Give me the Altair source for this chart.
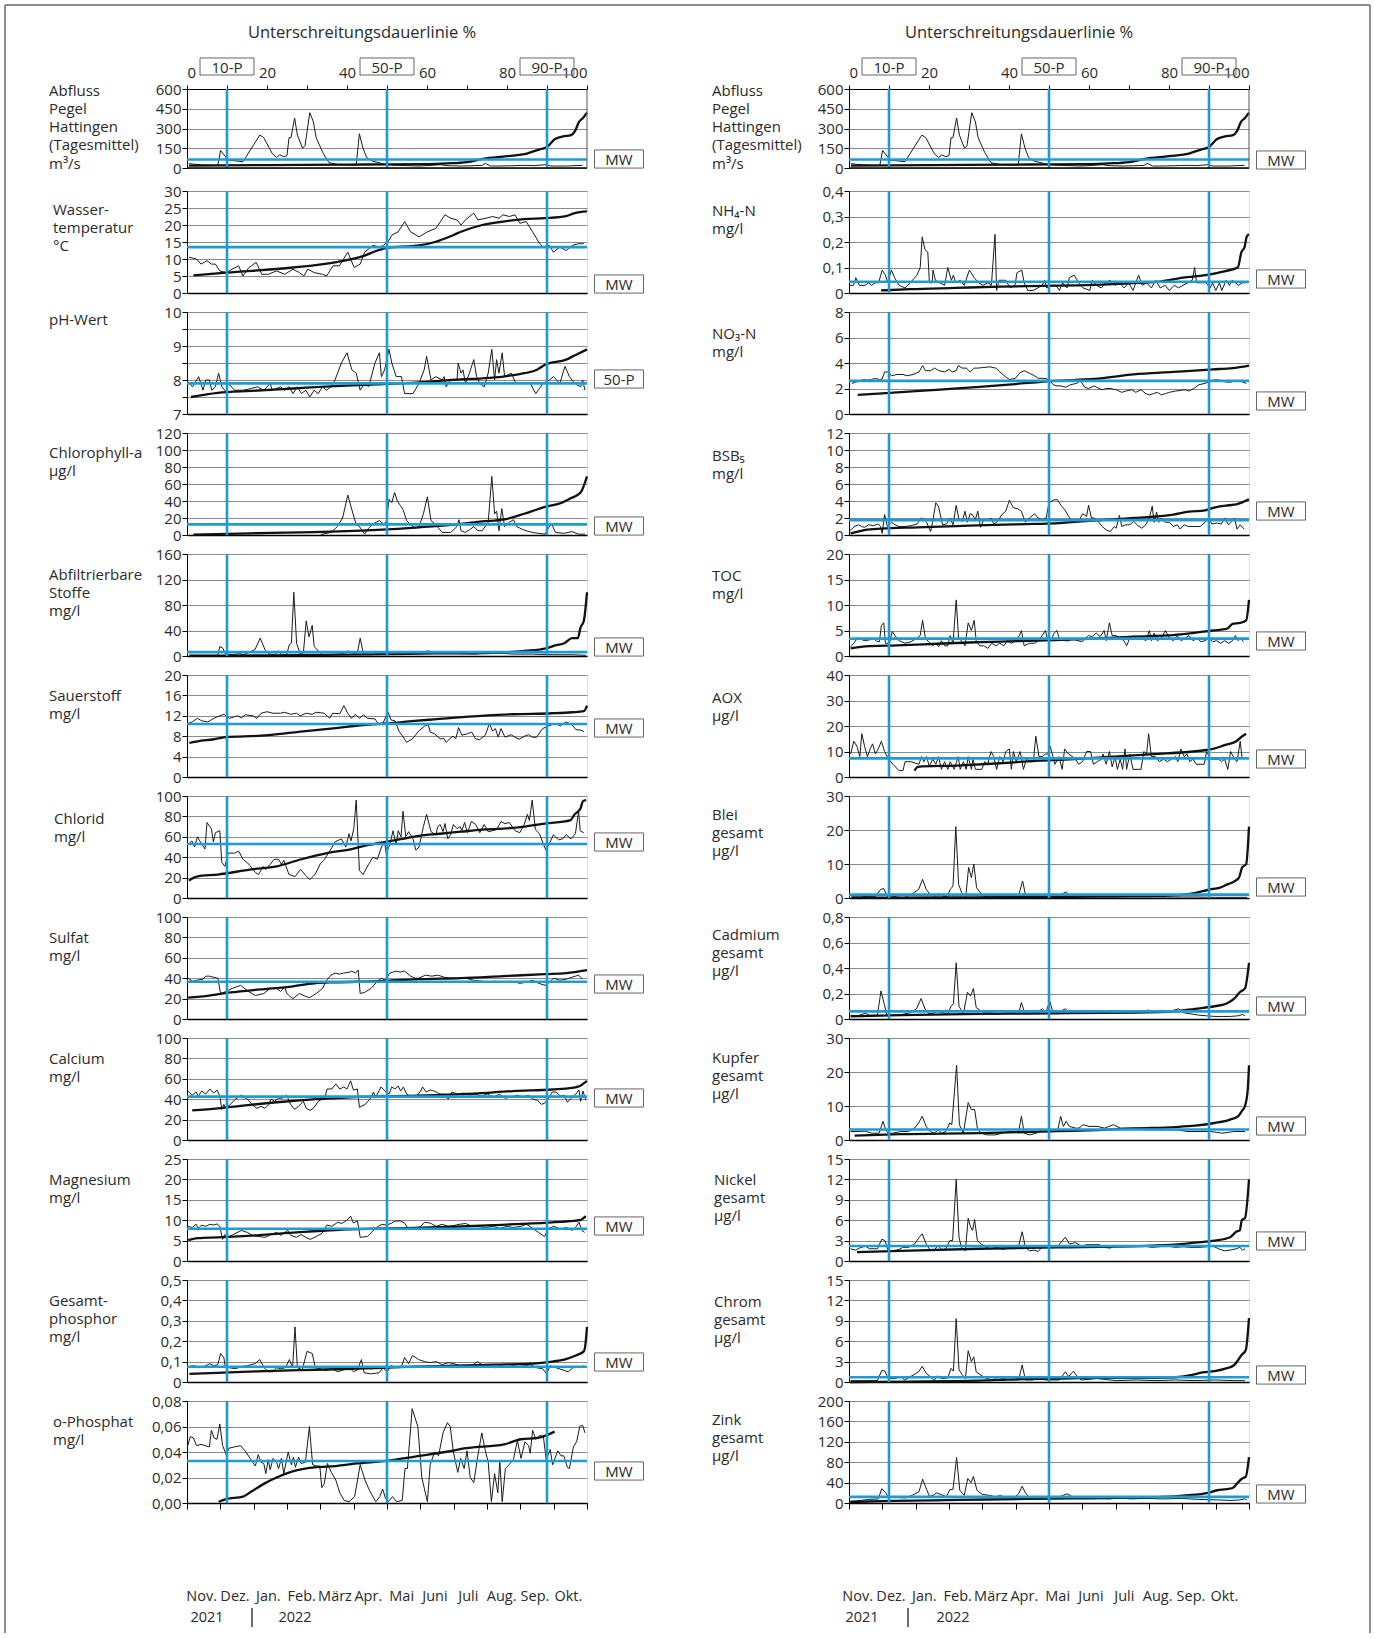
import altair as alt
import pandas as pd

FONT = "Open Sans"
BLUE = "#1f9ad6"
TXT = "#2a2a2a"
W = 400
H1 = 79
H1_CELL = 83
H = 102

PCT_LINES = [10, 50, 90]
PCT_LABELS = ["10-P", "50-P", "90-P"]
MONTHS = ["Nov.", "Dez.", "Jan.", "Feb.", "März", "Apr.", "Mai", "Juni", "Juli", "Aug.", "Sep.", "Okt."]
YEARS = ["2021", "2022"]
TITLE = "Unterschreitungsdauerlinie %"

# ---- time series (t = % of the year Nov 2021 - Oct 2022, value) and duration curves (percent, value)
ABFLUSS_TS = [(0.5, 33), (2, 28), (5, 22), (7.7, 20), (8.4, 133), (10.3, 60), (14.0, 48), (18.2, 250), (19.2, 230),
              (21.3, 110), (22.4, 80), (23.2, 100), (24.2, 85), (25.0, 95), (25.5, 230), (26.0, 230), (26.9, 380),
              (27.6, 250), (28.9, 150), (29.5, 170), (30.7, 420), (31.6, 350), (32.3, 230), (33.9, 120), (35.5, 40),
              (38.1, 25), (42.3, 20), (43.1, 260), (44.0, 150), (44.9, 80), (46.5, 50), (48.1, 40), (49.6, 25),
              (52.8, 20), (55, 18), (58, 15), (60, 18), (63.3, 25), (65, 18), (68.5, 15), (71, 17), (73.8, 20),
              (74.6, 35), (75.9, 15), (78, 15), (81, 17), (84.3, 20), (87, 18), (89.5, 25), (91, 15), (94.8, 15),
              (97, 18), (98.9, 20)]
ABFLUSS_DL = [(0.5, 18), (20, 22), (40, 25), (50, 28), (60, 30), (65, 35), (70, 45), (74, 70), (80, 90), (85, 110),
              (88, 140), (90, 160), (92, 220), (94, 240), (96, 250), (97, 280), (98, 350), (99, 380), (100, 420)]

WASSER_TS = [(0.5, 10.5), (2.4, 10), (3.5, 8.5), (5.0, 9.5), (6.1, 8.5), (7.1, 8.5), (8.2, 6.5), (9.8, 6), (11.3, 7),
             (12.9, 8), (14.0, 5), (15.5, 7.5), (17.3, 9), (18.7, 5.5), (20.3, 5.5), (22.4, 6.5), (24.4, 5.5),
             (26.5, 7), (28.1, 6), (29.2, 5), (30.2, 7), (31.8, 6), (33.9, 5.5), (34.9, 5), (36.5, 8), (38.1, 8),
             (40.2, 12), (41.8, 7.5), (43.3, 8.5), (44.4, 12), (46.5, 14), (48.1, 13.5), (49.1, 14), (50.2, 15),
             (51.2, 17), (52.8, 18), (54.4, 21), (55.9, 18), (58.0, 16.5), (60.1, 18), (62.2, 19), (64.5, 23),
             (65.9, 22), (67.5, 21.5), (68.5, 20), (69.6, 21.5), (71.7, 23.5), (72.7, 21.5), (74.8, 22), (76.4, 22.5),
             (78.0, 22), (79.0, 23), (80.6, 22.5), (82.0, 23), (83.2, 20.5), (84.8, 21), (86.4, 18), (87.9, 15),
             (89.0, 13.5), (90.6, 14), (91.6, 12), (93.2, 13.5), (94.8, 12.5), (96.3, 14), (97.9, 14.5), (99.2, 14.5)]
WASSER_DL = [(1.6, 5.2), (9.8, 6.0), (26.5, 7.5), (37, 9), (44.4, 11), (47.6, 12.5), (50, 13.3), (58, 14), (62, 15),
             (66.5, 17), (68.5, 18), (73.8, 20), (79, 21), (84.3, 21.7), (89.5, 22), (94.8, 22.6), (96.9, 23.5),
             (100, 24)]

PH_TS = [(0.5, 7.9), (1.4, 7.8), (2.9, 8.1), (4.0, 7.7), (4.7, 8.0), (5.6, 8.0), (6.2, 7.7), (7.1, 7.8), (7.9, 8.2),
         (8.7, 7.8), (9.8, 7.65), (10.3, 7.9), (11.9, 7.7), (14.0, 7.7), (16.1, 7.75), (17.6, 7.8), (19.2, 7.7),
         (20.8, 7.9), (21.3, 7.7), (23.4, 7.8), (24.4, 7.7), (25.5, 7.8), (26.5, 7.6), (27.6, 7.8), (28.6, 7.6),
         (29.7, 7.7), (30.7, 7.5), (31.8, 7.7), (32.8, 7.6), (33.9, 7.8), (34.9, 7.7), (36.0, 7.8), (37.0, 8.0),
         (38.6, 8.5), (40.0, 8.8), (41.2, 8.3), (42.3, 8.2), (43.3, 7.7), (44.4, 7.9), (45.4, 7.8), (47.0, 8.5),
         (48.1, 8.8), (48.6, 8.1), (49.4, 8.3), (50.5, 8.9), (51.2, 8.5), (52.3, 8.1), (53.6, 8.1), (54.4, 7.6),
         (56.5, 7.6), (58.0, 7.9), (59.3, 8.3), (59.9, 8.7), (61.0, 8.0), (62.2, 8.1), (63.8, 8.0), (64.3, 8.1),
         (64.8, 7.8), (65.9, 8.0), (67.5, 8.0), (67.8, 8.5), (68.5, 8.2), (69.0, 8.3), (69.6, 7.9), (70.6, 8.2),
         (71.7, 8.6), (72.4, 8.1), (73.2, 7.9), (74.3, 7.8), (75.3, 8.2), (76.2, 8.9), (76.9, 8.0), (77.4, 8.6),
         (78.0, 8.2), (78.8, 8.8), (79.4, 8.1), (81.1, 8.2), (82.2, 7.9), (84.3, 7.9), (85.8, 7.9), (87.2, 7.6),
         (89.0, 7.9), (90.6, 8.0), (91.6, 8.1), (93.2, 7.9), (94.5, 8.4), (95.6, 8.1), (96.9, 7.9), (98.4, 7.8),
         (98.9, 8.0), (99.5, 7.7)]
PH_DL = [(1.0, 7.5), (7.7, 7.62), (16.1, 7.68), (26.5, 7.75), (37, 7.82), (47.6, 7.87), (58, 7.93), (68.5, 8.02),
         (73.8, 8.05), (79, 8.1), (84.3, 8.2), (87.5, 8.3), (89.5, 8.45), (94.8, 8.6), (96.9, 8.72), (100, 8.9)]

CHLA_TS = [(33.4, 0.5), (36.0, 3), (37.6, 10), (38.9, 20), (40.2, 47), (41.2, 30), (42.3, 12), (43.1, 10), (44.4, 1),
           (45.4, 8), (46.5, 13), (48.1, 17), (49.1, 13), (49.8, 15), (50.5, 42), (51.2, 38), (51.9, 50), (52.6, 40),
           (53.3, 35), (54.0, 30), (54.9, 17), (55.9, 12), (57.0, 8), (58.0, 10), (59.1, 25), (60.1, 45), (61.0, 17),
           (62.2, 12), (63.8, 3), (65.9, 3), (67.5, 10), (68.0, 18), (68.5, 5), (69.6, 3), (70.6, 6), (71.7, 10),
           (72.7, 5), (73.8, 5), (75.3, 15), (76.2, 69), (76.9, 25), (77.4, 28), (78.0, 5), (78.7, 31), (79.4, 10),
           (80.6, 15), (81.6, 18), (82.4, 10), (83.7, 7), (84.8, 5), (86.4, 3), (87.9, 2), (89.5, 1), (91.1, 14),
           (92.1, 3), (94.2, 2), (96.3, 4), (97.9, 1), (99.5, 1)]
CHLA_DL = [(1.6, 0.5), (16.1, 2), (31.8, 3.5), (47.6, 6), (58, 9), (68.5, 13), (73.8, 16), (79, 18), (84.3, 25),
           (87.5, 30), (89.5, 33), (93.7, 38), (95.8, 43), (98.4, 50), (100, 69)]

AFS_TS = [(0.6, 1), (7.7, 1), (8.2, 15), (9.0, 12), (9.6, 3), (11.6, 2), (13.1, 4), (14.1, 2), (15.6, 6), (17.0, 10),
          (18.3, 28), (19.5, 10), (20.5, 3), (21.9, 2), (22.9, 8), (23.6, 2), (24.9, 2), (25.6, 18), (26.1, 20),
          (26.7, 100), (27.4, 20), (28.3, 3), (29.1, 5), (29.8, 55), (30.5, 30), (31.3, 48), (31.8, 15), (32.8, 8),
          (33.8, 2), (36.2, 2), (39.2, 4), (40.2, 8), (41.6, 4), (42.6, 5), (43.3, 28), (44.1, 3), (46.1, 2),
          (50.0, 6), (52.0, 6), (54.9, 5), (57.9, 5), (60.3, 8), (61.8, 5), (66.7, 4), (71.7, 3), (76.6, 5),
          (81.5, 3), (86.4, 3), (91.3, 2), (96.3, 2), (99.7, 1)]
AFS_DL = [(0.6, 0.5), (22.4, 1), (50, 3), (61.8, 4), (76.6, 5), (84.4, 8), (89.8, 12), (92.3, 17), (94.3, 20),
          (96.3, 28), (97.7, 28), (98.4, 45), (99.2, 55), (100, 100)]

O2_TS = [(0.3, 10.5), (1.3, 10.8), (2.6, 11.5), (3.7, 11), (5.2, 10.8), (6.7, 11.5), (8.2, 12), (9.2, 12.3),
         (10.6, 11.5), (12.6, 12), (13.6, 11.6), (14.6, 12.2), (16.5, 12), (17.5, 11.5), (18.5, 12.5), (20.0, 12.8),
         (21.5, 12.5), (23.4, 12.5), (24.4, 12.7), (25.9, 12.3), (27.4, 12.5), (28.3, 12), (29.8, 12.5), (31.3, 12.3),
         (32.3, 12.7), (34.3, 12.5), (35.7, 11.5), (36.4, 12.5), (38.2, 12.4), (39.2, 14), (40.2, 12.5), (41.1, 11.5),
         (42.1, 12.3), (43.1, 11.5), (44.1, 12.2), (45.1, 11.5), (47.0, 11.4), (48.0, 10.2), (49.0, 10.5),
         (50.2, 12.8), (51.0, 11.2), (52.0, 11), (53.0, 9), (53.9, 8), (54.9, 6.8), (56.4, 7.5), (57.9, 9),
         (59.4, 10), (60.3, 10.3), (60.8, 8.8), (61.8, 8.5), (63.3, 7.5), (64.3, 7.5), (64.8, 6.8), (65.7, 7.5),
         (66.5, 8), (67.2, 7.5), (67.9, 9.7), (68.7, 8.2), (70.2, 8.5), (71.2, 8.8), (72.1, 7.5), (73.1, 7.3),
         (74.6, 8.2), (75.6, 10.5), (76.4, 9), (77.1, 9.5), (77.8, 7.8), (78.5, 9.5), (79.5, 7.8), (81.0, 8.3),
         (82.0, 7.8), (83.0, 7.4), (84.4, 8), (85.4, 8.3), (86.4, 7.8), (87.4, 7.8), (88.9, 9.5), (90.4, 10),
         (91.3, 10.3), (92.3, 10.5), (93.3, 10), (94.8, 10.8), (96.3, 10.2), (97.2, 9.3), (98.4, 9.2), (99.2, 8.9)]
O2_DL = [(0.6, 6.7), (2.7, 7.0), (6.7, 7.4), (9.6, 7.8), (18.5, 8.1), (27.4, 8.8), (37.2, 9.6), (44.1, 10.2),
         (50, 10.5), (56.9, 11), (61.8, 11.3), (71.7, 11.9), (81.5, 12.3), (91.3, 12.5), (96.3, 12.7), (99.2, 12.9),
         (100, 14)]

CL_TS = [(0.3, 52), (1.2, 56), (1.9, 50), (2.6, 60), (3.5, 54), (4.5, 48), (5.0, 74), (6.1, 68), (6.6, 55), (7.1, 64),
         (8.2, 66), (8.7, 35), (9.5, 31), (10.3, 44), (11.9, 44), (12.9, 46), (14.0, 38), (15.5, 33), (17.1, 25),
         (17.9, 23), (19.0, 31), (19.7, 28), (20.8, 33), (21.8, 38), (22.9, 38), (23.6, 33), (24.2, 37), (25.5, 23),
         (27.0, 21), (28.4, 28), (29.7, 22), (30.7, 18), (32.0, 23), (33.4, 34), (34.4, 38), (36.0, 48), (37.0, 55),
         (38.6, 58), (39.7, 50), (40.5, 63), (41.0, 56), (41.7, 68), (42.3, 96), (43.1, 27), (44.0, 23), (45.4, 33),
         (46.5, 40), (47.6, 38), (48.6, 50), (49.4, 55), (49.8, 44), (50.7, 52), (51.5, 66), (52.3, 52), (52.8, 66),
         (53.5, 60), (54.0, 85), (54.7, 60), (55.4, 65), (56.5, 58), (57.2, 47), (58.0, 50), (59.1, 70), (59.9, 82),
         (61.0, 65), (62.2, 62), (62.7, 70), (63.3, 72), (64.0, 65), (64.5, 73), (65.2, 58), (65.9, 62), (66.6, 72),
         (67.5, 68), (68.3, 70), (68.7, 66), (69.4, 74), (70.1, 64), (71.1, 75), (72.2, 72), (73.2, 64), (74.3, 72),
         (75.3, 65), (76.4, 66), (77.4, 67), (78.5, 75), (79.5, 73), (80.6, 74), (82.0, 66), (83.2, 64), (84.3, 72),
         (85.1, 82), (85.6, 76), (86.3, 96), (87.1, 67), (88.1, 63), (89.2, 52), (89.7, 47), (90.8, 55), (91.6, 62),
         (92.9, 57), (93.9, 58), (94.8, 62), (96.0, 58), (97.1, 63), (97.9, 85), (98.3, 66), (99.2, 64)]
CL_DL = [(0.5, 17), (2.4, 21), (7.7, 23), (16.1, 28), (22.4, 31), (28.6, 38), (35, 44), (41.2, 48), (45.4, 52),
         (49.6, 55), (53.8, 58), (58, 61), (63.3, 63), (68.5, 65), (73.8, 67), (79, 68), (84.3, 70), (89.5, 73),
         (95.8, 76), (96.9, 82), (98.4, 88), (99, 95), (99.8, 96)]

SO4_TS = [(0.3, 40), (1.4, 37), (2.4, 38), (4.0, 39), (4.7, 42), (5.6, 42), (6.6, 41), (7.7, 40), (8.4, 25), (9.8, 27),
          (11.3, 30), (13.4, 33), (15.0, 28), (17.1, 23), (19.2, 25), (20.8, 30), (22.4, 30), (23.4, 27), (24.4, 31),
          (25.0, 25), (25.8, 22), (26.5, 20), (28.1, 25), (29.7, 22), (30.7, 21), (32.3, 25), (33.9, 30), (34.9, 38),
          (36.0, 43), (37.0, 45), (38.1, 44), (39.1, 45), (40.7, 46), (41.2, 47), (42.1, 45), (42.8, 48), (43.3, 25),
          (44.4, 26), (46.0, 30), (47.6, 37), (48.6, 40), (49.6, 38), (50.7, 45), (52.3, 47), (53.3, 46), (54.4, 47),
          (55.9, 42), (57.0, 40), (58.0, 40), (59.6, 43), (61.2, 42), (62.7, 43), (64.3, 41), (65.9, 40), (67.5, 40),
          (69.6, 40), (71.7, 38), (73.8, 37), (75.3, 36), (76.9, 37), (79.0, 36), (81.1, 37), (83.2, 35), (84.8, 36),
          (86.4, 38), (87.9, 35), (89.5, 33), (90.6, 36), (91.6, 40), (93.2, 38), (94.8, 39), (96.3, 41), (97.9, 43),
          (98.9, 39)]
SO4_DL = [(0.3, 21), (5.6, 23), (10.9, 26), (18.2, 29), (26.5, 32), (31.8, 35), (37, 36), (47.6, 37), (58, 39),
          (68.5, 40), (79, 42), (89.5, 44), (94.8, 45), (100, 48)]

CA_TS = [(0.3, 48), (1.3, 44), (2.3, 47), (2.8, 43), (3.7, 48), (4.7, 45), (5.7, 50), (6.7, 46), (7.5, 49), (8.2, 43),
         (8.7, 30), (9.2, 35), (9.6, 32), (10.6, 34), (12.1, 40), (13.6, 44), (15.1, 40), (16.5, 34), (17.5, 31),
         (18.5, 33), (19.5, 31), (20.5, 35), (21.0, 40), (21.9, 38), (22.9, 41), (23.9, 41), (24.9, 44), (25.9, 35),
         (26.9, 30), (27.9, 33), (29.1, 38), (29.8, 31), (30.8, 29), (31.8, 32), (32.8, 38), (33.8, 40), (34.4, 40),
         (35.0, 50), (36.2, 50), (37.2, 55), (38.2, 50), (39.2, 52), (40.0, 50), (40.9, 58), (41.6, 49), (42.6, 50),
         (43.1, 32), (44.6, 35), (46.1, 42), (46.6, 47), (47.2, 42), (48.5, 52), (49.5, 48), (50.5, 45), (51.2, 52),
         (52.0, 50), (52.8, 53), (53.4, 48), (54.1, 52), (54.9, 45), (55.9, 43), (57.4, 43), (58.4, 48), (58.9, 52),
         (59.8, 47), (60.8, 49), (61.8, 48), (63.3, 45), (64.3, 45), (65.3, 40), (66.2, 47), (67.7, 45), (69.2, 46),
         (70.7, 44), (72.1, 45), (73.6, 43), (75.1, 45), (76.6, 42), (78.1, 45), (79.5, 41), (81.0, 42), (82.5, 44),
         (84.0, 42), (85.4, 44), (86.4, 40), (87.6, 39), (88.6, 35), (89.4, 36), (90.4, 41), (91.3, 47), (92.3, 47),
         (93.3, 43), (94.3, 44), (95.1, 37), (96.3, 42), (97.2, 45), (98.0, 49), (98.4, 38), (99.0, 48), (99.7, 39)]
CA_DL = [(1.3, 29), (7.7, 31), (14.6, 34), (22.4, 37), (32.3, 40), (42.1, 42), (52, 43), (61.8, 44), (71.7, 45.5),
         (81.5, 48), (91.3, 49.5), (96.3, 51), (98.2, 53), (100, 58)]

MG_TS = [(0.3, 8.5), (1.3, 8.2), (2.3, 9), (2.8, 8), (3.7, 8.8), (4.7, 8.5), (5.7, 9), (6.7, 8.8), (7.5, 9.1),
         (8.2, 8.5), (8.9, 5.3), (9.4, 6.5), (10.1, 5.8), (11.6, 6.5), (13.6, 7.5), (15.1, 7), (16.5, 6.2), (18.0, 6),
         (19.5, 5.8), (21.0, 6.5), (22.4, 7), (23.4, 6.3), (24.4, 7), (25.2, 7.5), (25.9, 6.3), (27.4, 5.8),
         (28.5, 6.5), (29.5, 5.9), (30.8, 5.3), (32.3, 6), (33.8, 6.8), (35.0, 8.8), (36.2, 8.5), (37.7, 9.5),
         (38.7, 9.2), (40.0, 10), (40.9, 11), (41.6, 9.3), (42.6, 9.9), (43.3, 5.8), (45.1, 6), (46.6, 7.5),
         (47.8, 8.5), (48.8, 9), (49.8, 8.8), (51.0, 9.2), (52.0, 9.8), (53.4, 9.8), (54.4, 9.3), (55.4, 7.8),
         (56.9, 7.8), (58.4, 8.5), (59.4, 9.5), (60.8, 9.3), (62.3, 8.5), (63.8, 9), (65.3, 8.5), (66.7, 8.7),
         (68.2, 9), (69.7, 9.2), (71.2, 8.5), (72.6, 8.5), (74.6, 8.2), (76.6, 8.5), (78.1, 8), (80.0, 8.5),
         (81.5, 8.2), (83.5, 8.5), (84.9, 9), (86.4, 8), (87.9, 7), (89.4, 6), (90.4, 8), (91.8, 8.5), (93.3, 7.8),
         (94.8, 8.2), (96.3, 7.5), (97.2, 8.3), (98.0, 9.5), (98.7, 7.5), (99.4, 7)]
MG_DL = [(0.3, 5.1), (2.7, 5.6), (7.7, 5.8), (17.5, 6.3), (27.4, 7), (37.2, 7.6), (47, 7.9), (56.9, 8.1), (66.7, 8.4),
         (76.6, 8.8), (86.4, 9.2), (93.3, 9.6), (98.2, 10), (99.7, 11)]

TP_TS = [(0.3, 0.075), (1.8, 0.08), (2.8, 0.07), (4.2, 0.075), (5.7, 0.09), (6.7, 0.08), (7.7, 0.085), (8.4, 0.14),
         (9.2, 0.12), (9.6, 0.07), (10.6, 0.07), (12.1, 0.065), (13.6, 0.075), (15.1, 0.08), (17.0, 0.09),
         (18.2, 0.11), (19.3, 0.07), (20.3, 0.05), (21.5, 0.05), (22.4, 0.07), (23.4, 0.065), (24.6, 0.07),
         (25.6, 0.11), (26.4, 0.07), (27.0, 0.27), (27.6, 0.07), (28.8, 0.06), (30.0, 0.15), (31.3, 0.14),
         (32.1, 0.07), (33.3, 0.065), (34.7, 0.055), (36.2, 0.065), (37.7, 0.05), (39.2, 0.06), (40.6, 0.07),
         (41.6, 0.05), (42.6, 0.06), (43.6, 0.11), (44.3, 0.045), (46.1, 0.04), (48.0, 0.045), (49.0, 0.07),
         (50.0, 0.05), (51.0, 0.08), (52.5, 0.07), (53.7, 0.08), (54.4, 0.12), (55.4, 0.09), (56.4, 0.13),
         (57.9, 0.11), (59.4, 0.1), (60.8, 0.095), (62.3, 0.1), (63.8, 0.085), (65.3, 0.095), (66.7, 0.09),
         (68.2, 0.08), (69.7, 0.075), (71.2, 0.08), (72.6, 0.1), (74.1, 0.08), (75.6, 0.08), (77.1, 0.07),
         (78.5, 0.08), (80.0, 0.075), (81.5, 0.08), (83.0, 0.075), (84.4, 0.08), (85.9, 0.085), (87.4, 0.07),
         (88.9, 0.065), (89.9, 0.04), (90.8, 0.08), (92.3, 0.07), (93.8, 0.06), (95.3, 0.05), (96.8, 0.075),
         (98.2, 0.07), (99.2, 0.08)]
TP_DL = [(0.6, 0.04), (7.7, 0.045), (17.5, 0.052), (32.3, 0.06), (47, 0.068), (56.9, 0.075), (66.7, 0.08),
         (76.6, 0.085), (86.4, 0.09), (91.3, 0.1), (94.3, 0.11), (97.2, 0.13), (99.2, 0.15), (99.7, 0.2), (100, 0.27)]

OP_TS = [(0.2, 0.045), (0.8, 0.052), (1.6, 0.051), (2.4, 0.045), (3.5, 0.046), (4.5, 0.045), (5.6, 0.044), (6.1, 0.057),
         (6.8, 0.051), (7.5, 0.05), (8.2, 0.062), (8.9, 0.045), (9.8, 0.038), (10.5, 0.043), (11.9, 0.044),
         (13.4, 0.045), (14.5, 0.041), (15.8, 0.035), (17.1, 0.029), (17.8, 0.038), (18.5, 0.032), (19.2, 0.031),
         (19.7, 0.023), (20.3, 0.034), (20.8, 0.026), (21.5, 0.035), (22.4, 0.032), (22.9, 0.027), (23.6, 0.035),
         (24.2, 0.023), (25.3, 0.04), (26.1, 0.03), (26.6, 0.036), (27.1, 0.028), (27.9, 0.036), (28.5, 0.031),
         (29.6, 0.032), (30.6, 0.06), (31.4, 0.03), (32.4, 0.029), (33.2, 0.029), (33.7, 0.012), (34.3, 0.015),
         (35.1, 0.031), (36.1, 0.024), (37.2, 0.018), (38.2, 0.008), (39.3, 0.002), (40.5, 0.001), (41.9, 0.005),
         (43.3, 0.03), (44.5, 0.018), (45.6, 0.01), (47.2, 0.001), (48.2, 0.005), (48.9, 0.011), (49.6, 0.004),
         (50.3, 0.001), (51.4, 0.005), (52.4, 0.001), (53.8, 0.002), (54.5, 0.027), (55.1, 0.027), (56.3, 0.074),
         (57.7, 0.06), (58.7, 0.02), (60.1, 0.001), (60.8, 0.03), (61.9, 0.04), (62.9, 0.037), (64.0, 0.055),
         (65.1, 0.063), (65.8, 0.06), (66.6, 0.04), (67.7, 0.024), (68.4, 0.035), (69.3, 0.027), (70.0, 0.041),
         (70.8, 0.02), (71.7, 0.016), (72.7, 0.037), (73.7, 0.055), (74.5, 0.042), (75.3, 0.032), (76.1, 0.001),
         (76.9, 0.023), (77.7, 0.008), (78.2, 0.033), (78.8, 0.001), (79.6, 0.027), (80.5, 0.03), (81.6, 0.034),
         (82.6, 0.049), (83.5, 0.035), (84.5, 0.048), (85.4, 0.045), (85.8, 0.039), (86.4, 0.057), (87.2, 0.05),
         (88.2, 0.053), (89.1, 0.052), (89.8, 0.034), (90.8, 0.042), (91.4, 0.03), (92.7, 0.041), (93.5, 0.037),
         (94.2, 0.037), (95.1, 0.028), (95.6, 0.027), (96.6, 0.044), (97.4, 0.048), (98.2, 0.06), (98.9, 0.061),
         (99.5, 0.055)]
OP_DL = [(7.9, 0.001), (9.8, 0.003), (14, 0.005), (16.1, 0.009), (19.2, 0.015), (22.4, 0.02), (26.6, 0.025),
         (31.8, 0.028), (37.1, 0.029), (42.4, 0.031), (49.8, 0.033), (58.2, 0.037), (64.5, 0.04), (69.8, 0.043),
         (79.3, 0.046), (83.5, 0.05), (87.7, 0.051), (89.8, 0.053), (91.9, 0.056)]

NH4_TS = [(0.3, 0.03), (1.1, 0.03), (1.7, 0.06), (2.6, 0.03), (4.0, 0.03), (4.9, 0.04), (5.7, 0.03), (6.5, 0.04),
          (7.4, 0.04), (8.3, 0.09), (9.1, 0.07), (9.7, 0.04), (10.6, 0.09), (11.4, 0.06), (12.5, 0.03), (14.0, 0.02),
          (15.3, 0.04), (17.0, 0.07), (17.8, 0.1), (18.3, 0.22), (19.0, 0.17), (19.7, 0.16), (20.1, 0.04),
          (20.8, 0.04), (21.0, 0.09), (21.6, 0.05), (22.7, 0.04), (23.9, 0.03), (24.7, 0.1), (25.6, 0.05),
          (26.1, 0.07), (26.7, 0.04), (27.8, 0.05), (28.8, 0.03), (30.1, 0.09), (31.3, 0.06), (32.4, 0.04),
          (33.5, 0.03), (34.7, 0.04), (35.6, 0.03), (36.5, 0.23), (36.9, 0.01), (37.5, 0.05), (39.2, 0.05),
          (40.3, 0.02), (41.5, 0.03), (42.0, 0.08), (43.2, 0.09), (43.8, 0.04), (44.7, 0.01), (46.0, 0.01),
          (47.2, 0.02), (48.3, 0.03), (48.9, 0.05), (49.4, 0.02), (50.6, 0.03), (51.7, 0.03), (52.6, 0.01),
          (53.4, 0.04), (54.5, 0.02), (55.1, 0.06), (56.3, 0.07), (57.4, 0.04), (58.5, 0.02), (60.2, 0.01),
          (60.8, 0.05), (61.9, 0.03), (63.1, 0.02), (64.2, 0.04), (65.3, 0.05), (66.5, 0.03), (67.6, 0.04),
          (68.8, 0.02), (69.9, 0.04), (71.0, 0.01), (72.4, 0.07), (73.3, 0.03), (74.4, 0.04), (75.6, 0.02),
          (76.7, 0.05), (77.8, 0.02), (79.0, 0.03), (80.1, 0.01), (81.3, 0.03), (82.4, 0.02), (83.5, 0.03),
          (84.7, 0.04), (85.8, 0.05), (86.4, 0.1), (86.9, 0.04), (88.1, 0.04), (89.2, 0.04), (90.3, 0.02),
          (90.9, 0.04), (91.7, 0.01), (92.6, 0.04), (93.2, 0.01), (94.3, 0.05), (95.1, 0.03), (95.8, 0.05),
          (96.6, 0.04), (97.4, 0.03), (98.3, 0.04), (99.4, 0.04)]
NH4_DL = [(8, 0.01), (15.3, 0.015), (26.7, 0.02), (38, 0.025), (49.4, 0.028), (60.8, 0.032), (72.2, 0.04),
          (77.8, 0.045), (83.5, 0.06), (89.2, 0.07), (93.8, 0.085), (97.2, 0.1), (98.1, 0.16), (98.9, 0.18),
          (99.4, 0.22), (100, 0.23)]

NO3_TS = [(0.7, 2.4), (1.7, 2.5), (2.7, 2.6), (3.6, 2.7), (4.6, 2.65), (5.6, 2.7), (6.6, 2.8), (7.6, 2.7), (8.3, 2.75),
          (8.9, 3.3), (9.9, 3.3), (10.6, 3.0), (12.0, 3.1), (13.5, 3.1), (14.5, 3.0), (16.0, 3.1), (17.5, 3.3),
          (18.4, 3.8), (19.1, 3.4), (20.4, 3.4), (21.4, 3.6), (22.4, 3.4), (23.9, 3.3), (25.0, 3.5), (25.8, 3.3),
          (26.8, 3.4), (27.3, 3.8), (28.3, 3.6), (29.3, 3.6), (30.3, 3.3), (31.3, 3.6), (32.2, 3.6), (33.7, 3.65),
          (35.2, 3.7), (36.7, 3.6), (37.7, 3.3), (39.2, 2.9), (40.1, 2.7), (41.6, 2.8), (42.6, 3.2), (43.8, 3.4),
          (45.1, 3.2), (46.4, 3.0), (47.3, 2.8), (48.5, 2.8), (49.5, 2.75), (50.3, 2.6), (51.0, 2.3), (52.0, 2.2),
          (53.0, 2.2), (54.2, 2.1), (55.4, 2.3), (56.9, 2.4), (57.9, 2.6), (58.9, 2.1), (59.9, 2.0), (61.3, 2.2),
          (62.5, 2.0), (63.3, 1.9), (64.3, 2.0), (65.3, 2.0), (66.8, 1.9), (68.2, 1.7), (69.2, 1.8), (70.7, 1.9),
          (71.7, 1.7), (73.0, 1.9), (74.2, 1.6), (75.1, 1.5), (76.1, 1.6), (77.1, 1.7), (78.1, 1.5), (79.1, 1.6),
          (80.1, 1.7), (81.6, 1.8), (82.8, 1.85), (84.0, 1.9), (85.0, 1.8), (86.2, 2.0), (87.5, 2.3), (89.0, 2.4),
          (90.4, 2.6), (91.9, 2.7), (93.1, 2.6), (94.4, 2.5), (95.4, 2.5), (96.8, 2.6), (98.0, 2.55), (99.3, 2.4)]
NO3_DL = [(2.2, 1.5), (12, 1.7), (21.9, 1.9), (31.8, 2.1), (41.6, 2.35), (51.5, 2.6), (61.3, 2.75), (71.2, 3.1),
          (81.1, 3.3), (91, 3.5), (95.9, 3.6), (100, 3.8)]

BSB_TS = [(0.2, 0.5), (1.4, 1.0), (2.4, 1.2), (3.2, 1.0), (3.9, 0.9), (4.9, 1.2), (6.1, 1.1), (7.3, 1.3), (7.9, 1.0),
          (8.3, 0.2), (8.9, 2.4), (9.6, 1.0), (10.6, 1.5), (11.5, 1.2), (12.5, 1.0), (14.0, 1.0), (15.5, 1.1),
          (17.0, 1.3), (18.1, 2.0), (19.4, 1.5), (20.4, 0.4), (20.9, 1.5), (21.7, 3.8), (22.4, 3.3), (23.4, 1.2),
          (24.4, 1.3), (25.3, 2.0), (26.0, 1.2), (26.8, 3.5), (27.5, 1.8), (28.3, 1.6), (29.0, 2.8), (29.6, 1.5),
          (30.3, 2.5), (31.0, 2.3), (31.6, 1.8), (32.2, 2.8), (32.9, 0.9), (33.7, 1.8), (34.7, 1.7), (35.5, 2.0),
          (36.2, 1.3), (37.2, 1.6), (38.2, 2.4), (39.2, 2.8), (40.1, 4.1), (41.1, 3.2), (42.1, 3.1), (43.1, 2.8),
          (44.1, 1.5), (45.1, 2.0), (46.4, 2.5), (47.3, 2.0), (48.3, 1.8), (49.3, 2.0), (50.0, 3.8), (51.0, 4.1),
          (52.0, 4.2), (53.0, 3.5), (53.9, 3.0), (54.9, 2.2), (55.9, 1.5), (57.4, 1.6), (58.4, 2.5), (59.4, 2.2),
          (59.9, 3.5), (60.6, 2.0), (61.3, 2.0), (62.3, 1.6), (63.3, 1.0), (64.3, 0.6), (65.3, 0.4), (66.3, 1.0),
          (66.8, 0.8), (67.6, 2.3), (68.2, 1.0), (69.2, 1.2), (70.2, 1.2), (71.2, 1.6), (72.2, 1.1), (73.2, 0.8),
          (74.2, 1.2), (75.1, 2.0), (75.8, 3.4), (76.3, 1.5), (76.9, 2.7), (77.4, 1.5), (78.1, 2.0), (79.1, 1.5),
          (80.1, 1.5), (81.1, 1.0), (82.1, 1.2), (82.8, 0.7), (83.8, 1.2), (84.8, 1.0), (85.8, 1.0), (86.8, 1.0),
          (87.8, 1.0), (89.0, 1.5), (89.9, 2.0), (90.7, 1.3), (91.9, 1.4), (93.1, 1.3), (93.9, 2.0), (94.9, 1.2),
          (95.7, 1.6), (96.4, 2.0), (97.0, 0.7), (97.8, 1.2), (98.8, 0.7)]
BSB_DL = [(0.4, 0.2), (2.2, 0.4), (4.1, 0.6), (8.1, 0.75), (17, 0.9), (26.8, 1.05), (36.7, 1.2), (46.6, 1.3),
          (52.5, 1.4), (56.4, 1.55), (61.3, 1.7), (66.3, 1.85), (71.2, 2.0), (76.1, 2.15), (81.1, 2.4), (85, 2.75),
          (89, 2.9), (91, 3.2), (94.9, 3.5), (96.8, 3.6), (100, 4.2)]

TOC_TS = [(0.4, 1.8), (1.2, 2.5), (2.2, 3.6), (3.2, 3.2), (4.1, 3.0), (5.3, 3.2), (6.1, 3.4), (6.9, 2.9), (7.6, 2.8),
          (8.1, 6.0), (8.7, 6.5), (9.1, 2.5), (10.1, 2.5), (10.8, 4.8), (11.5, 4.0), (12.5, 3.0), (14.0, 2.5),
          (15.5, 2.8), (17.0, 3.5), (17.8, 4.0), (18.4, 7.0), (19.1, 3.5), (19.9, 2.8), (20.9, 2.0), (21.7, 2.5),
          (22.4, 1.8), (23.1, 3.0), (23.9, 2.0), (24.7, 2.0), (25.3, 4.0), (26.0, 2.5), (26.8, 11.0), (27.4, 3.5),
          (28.3, 2.8), (29.0, 2.0), (29.8, 6.5), (30.6, 5.0), (31.3, 7.0), (31.8, 3.0), (32.7, 2.0), (33.7, 2.0),
          (34.7, 1.5), (35.7, 2.5), (36.7, 2.0), (37.7, 2.5), (38.7, 2.0), (39.6, 3.0), (40.6, 2.5), (41.6, 3.0),
          (42.6, 4.0), (43.1, 5.0), (43.8, 2.0), (45.1, 2.5), (46.4, 2.5), (47.3, 3.0), (48.3, 4.0), (49.1, 5.0),
          (49.7, 3.0), (50.5, 3.0), (51.3, 4.5), (52.0, 5.0), (52.7, 3.0), (53.6, 3.2), (54.6, 2.9), (55.9, 3.4),
          (57.2, 3.0), (58.2, 2.8), (59.2, 3.5), (59.9, 4.0), (60.8, 3.8), (61.8, 4.5), (62.8, 3.8), (63.8, 5.0),
          (64.3, 3.0), (65.1, 6.5), (65.8, 4.0), (66.8, 4.0), (67.8, 3.5), (68.7, 3.0), (69.4, 2.0), (70.2, 3.5),
          (71.2, 4.0), (72.2, 3.2), (73.2, 3.5), (74.2, 3.0), (75.1, 5.0), (75.6, 3.0), (76.3, 4.5), (77.1, 3.0),
          (78.1, 3.5), (79.1, 5.0), (80.1, 3.5), (81.1, 3.0), (82.1, 4.0), (83.0, 3.0), (84.0, 3.5), (85.0, 4.0),
          (86.0, 3.0), (87.0, 3.5), (88.0, 2.8), (89.0, 3.0), (89.9, 3.5), (90.9, 2.8), (91.9, 3.0), (92.9, 2.5),
          (93.9, 3.0), (94.9, 2.5), (95.9, 3.0), (96.6, 4.0), (97.3, 3.0), (97.8, 3.5), (98.6, 2.8)]
TOC_DL = [(0.4, 1.5), (4.1, 1.9), (12, 2.1), (21.9, 2.4), (31.8, 2.7), (41.6, 2.9), (51.5, 3.1), (61.3, 3.4),
          (71.2, 3.8), (81.1, 4.1), (86, 4.5), (91, 5.0), (94.4, 5.3), (95.9, 6.3), (97.8, 6.5), (99.3, 7.0), (100, 11.0)]

AOX_TS = [(0.4, 9), (1.2, 14), (2.0, 12), (2.7, 8), (3.2, 17), (3.9, 12), (4.6, 8), (5.3, 11), (5.9, 13), (6.6, 9),
          (7.3, 11), (8.1, 14), (8.9, 10), (9.9, 7), (11.0, 5), (12.5, 2.5), (13.5, 2.5), (14.0, 6), (15.5, 6),
          (17.5, 5), (18.1, 8), (18.7, 6), (19.4, 8), (20.1, 4), (20.9, 7), (21.7, 5), (22.4, 8), (23.1, 3), (23.9, 6),
          (24.7, 3), (25.3, 6), (26.3, 3), (27.3, 8), (27.8, 3), (28.6, 6), (29.3, 3), (29.8, 8), (30.6, 3), (31.0, 7),
          (31.6, 3), (33.2, 3), (33.9, 6), (34.7, 5), (35.5, 10), (36.2, 8), (36.9, 3), (37.7, 8), (38.5, 6),
          (39.2, 10), (40.1, 11), (40.6, 3), (41.1, 10), (41.8, 6), (42.8, 10), (43.6, 3), (44.4, 7), (45.4, 6),
          (46.1, 6), (46.7, 16), (47.5, 8), (48.3, 8), (49.1, 9), (49.7, 9), (50.3, 12), (51.0, 8), (51.5, 5),
          (52.5, 8), (53.3, 3), (53.9, 11), (54.9, 9), (55.9, 8), (56.6, 7), (57.4, 5), (58.4, 6), (59.4, 10),
          (60.4, 10), (61.1, 5), (62.1, 6), (63.1, 7), (63.5, 9), (64.3, 5), (65.1, 10), (65.8, 4), (66.5, 8),
          (67.1, 3), (67.8, 7), (68.4, 3), (69.0, 11), (69.4, 3), (70.2, 9), (71.0, 3), (73.0, 3), (73.7, 10),
          (74.4, 9), (74.9, 17), (75.6, 8), (76.6, 8), (77.6, 6), (78.6, 7), (79.6, 6), (80.6, 7), (81.6, 8),
          (82.2, 6), (83.0, 11), (83.8, 8), (84.5, 9), (85.2, 6), (86.0, 7), (86.8, 5), (88.8, 5), (89.4, 10),
          (90.4, 7), (92.4, 7), (93.1, 6), (93.9, 7), (94.7, 3), (95.4, 10), (96.4, 7), (97.0, 6), (97.8, 14), (98.3, 7)]
AOX_DL = [(16.4, 2.5), (17.2, 4), (26.8, 4.5), (36.7, 5.3), (46.6, 6.3), (56.4, 7), (66.3, 8), (76.1, 9), (86, 10),
          (91, 11), (93.9, 12.5), (96.8, 14), (98.3, 16), (99.3, 17)]

PB_TS = [(0.6, 0.3), (2.8, 0.3), (4.7, 0.5), (6.7, 0.5), (7.9, 2.5), (8.7, 2.8), (9.5, 0.5), (10.7, 0.3), (12.1, 0.6),
         (13.6, 0.8), (14.6, 0.5), (16.1, 1.5), (17.4, 2.5), (18.4, 5.5), (19.3, 2.5), (20.3, 1), (21.5, 0.5),
         (22.3, 1.3), (23.3, 0.6), (24.5, 0.3), (25.3, 2.5), (26.0, 3.5), (26.7, 21), (27.4, 4), (28.2, 1.5),
         (29.2, 0.5), (29.9, 9), (30.6, 6), (31.2, 10), (31.9, 3), (32.9, 1.5), (33.6, 0.5), (35.3, 0.3), (38.3, 0.5),
         (40.3, 0.5), (42.3, 0.3), (43.4, 5), (44.2, 0.5), (46.2, 0.3), (48.2, 0.5), (50.1, 0.5), (52.1, 0.5),
         (54.3, 1.8), (55.1, 0.8), (57.1, 0.6), (62.0, 0.5), (66.9, 0.4), (71.9, 0.4), (76.8, 0.3), (81.7, 0.3),
         (86.7, 0.3), (91.6, 0.2), (96.5, 0.2), (99.5, 0.2)]
PB_DL = [(0.6, 0.1), (22, 0.15), (42, 0.25), (62, 0.4), (76.8, 0.6), (83.7, 1.0), (86.7, 1.5), (90.1, 2.5), (92.6, 3),
         (94.6, 4), (96.5, 5), (97.5, 6), (98.3, 9), (99.3, 10), (100, 21)]

CD_TS = [(0.4, 0.03), (2.2, 0.025), (4.1, 0.045), (5.1, 0.03), (7.1, 0.03), (8.0, 0.22), (8.8, 0.12), (9.5, 0.03),
         (11.0, 0.03), (12.5, 0.03), (13.9, 0.04), (15.4, 0.05), (16.9, 0.08), (18.0, 0.16), (19.0, 0.08),
         (20.0, 0.04), (21.0, 0.045), (22.0, 0.06), (23.2, 0.05), (24.7, 0.04), (25.5, 0.1), (26.1, 0.12),
         (26.8, 0.44), (27.5, 0.1), (28.6, 0.04), (29.6, 0.21), (30.4, 0.18), (31.1, 0.24), (31.8, 0.09),
         (32.7, 0.07), (33.7, 0.05), (35.5, 0.05), (37.5, 0.04), (39.4, 0.05), (41.4, 0.05), (42.4, 0.04),
         (43.1, 0.13), (43.8, 0.06), (44.8, 0.04), (46.3, 0.05), (47.3, 0.06), (48.4, 0.08), (49.2, 0.05),
         (50.2, 0.14), (51.0, 0.05), (52.2, 0.05), (54.1, 0.08), (55.1, 0.05), (57.1, 0.05), (60.0, 0.06),
         (62.0, 0.055), (63.9, 0.05), (66.9, 0.05), (69.8, 0.055), (71.8, 0.05), (74.7, 0.07), (76.7, 0.05),
         (79.6, 0.055), (82.4, 0.08), (83.5, 0.05), (85.5, 0.04), (87.5, 0.03), (89.4, 0.025), (91.4, 0.02),
         (93.3, 0.02), (95.3, 0.02), (97.3, 0.025), (98.4, 0.035), (99.0, 0.025)]
CD_DL = [(0.4, 0.02), (13, 0.03), (32.5, 0.04), (52.2, 0.045), (71.8, 0.05), (81.6, 0.06), (86.5, 0.08), (91.4, 0.1),
         (94.3, 0.12), (96.3, 0.16), (97.7, 0.21), (99.0, 0.24), (100, 0.44)]

CU_TS = [(0.4, 2.5), (2.2, 2.5), (4.1, 2.6), (5.6, 2.0), (7.5, 2.0), (8.5, 5.5), (9.2, 3.0), (9.8, 2.0), (11.0, 2.0),
         (12.9, 2.5), (14.9, 2.5), (16.4, 3.5), (17.4, 5.0), (18.3, 7), (19.3, 4), (20.3, 2.5), (21.3, 2), (22.3, 3),
         (23.2, 2), (24.2, 2.5), (25.2, 5), (25.7, 4.5), (26.9, 22), (27.6, 4.5), (28.6, 2), (29.8, 11), (30.6, 9),
         (31.4, 9), (32.1, 3.5), (33.0, 2), (34.5, 1.5), (36.5, 1.5), (38.4, 2), (40.2, 2.5), (41.4, 2.5),
         (42.4, 2.5), (43.1, 7), (43.8, 2), (45.3, 1.5), (46.8, 2), (48.2, 3), (49.7, 3), (51.2, 3), (52.2, 3),
         (52.9, 7), (53.6, 4), (54.3, 5.5), (55.1, 4), (56.6, 3.5), (57.5, 3.5), (58.5, 4.5), (60.0, 4), (62.0, 4),
         (63.9, 3.5), (66.1, 4.5), (67.8, 3.5), (69.8, 3.5), (71.8, 3.5), (73.7, 3), (76.7, 3), (79.6, 3),
         (82.1, 3), (84.5, 2.5), (87.5, 2.5), (90.4, 2.5), (93.3, 2), (96.3, 2.5), (99.0, 2.5)]
CU_DL = [(1.4, 1.3), (13, 1.7), (32.5, 2.0), (52.2, 2.6), (62, 2.9), (71.8, 3.4), (81.6, 3.8), (86.5, 4.2),
         (91.4, 5), (95.3, 6), (97.3, 7), (98.2, 8.5), (99, 10), (99.7, 15), (100, 22)]

NI_TS = [(0.4, 1.8), (1.7, 1.6), (2.6, 1.9), (4.1, 2.2), (5.1, 1.8), (6.3, 1.8), (7.1, 1.8), (8.2, 3.2), (9.0, 3.0),
         (9.8, 1.5), (11.0, 1.5), (12.5, 1.7), (13.4, 2.0), (14.9, 2.0), (16.4, 2.5), (17.6, 3.5), (18.3, 4.0),
         (19.3, 2.5), (20.3, 1.6), (21.3, 1.6), (22.3, 2.3), (23.2, 1.6), (24.2, 1.8), (25.2, 3.0), (25.9, 3.0),
         (26.8, 12), (27.5, 3.5), (28.1, 2.0), (29.1, 1.5), (29.8, 6.3), (30.4, 5.0), (30.9, 4.5), (31.4, 6.1),
         (32.1, 3), (33.0, 2.5), (34.3, 2), (35.5, 1.8), (37.0, 2), (38.4, 1.7), (40.4, 2), (42.4, 2.2), (43.3, 4.3),
         (44.1, 2), (45.1, 1.5), (46.3, 1.6), (47.3, 1.4), (48.2, 2), (50.2, 2), (52.2, 2.2), (53.1, 2.8),
         (54.1, 3.5), (55.1, 2.5), (56.6, 2.7), (58.0, 2.2), (59.5, 2.4), (61.0, 2.4), (62.5, 2.4), (63.9, 2.0),
         (65.4, 1.9), (66.4, 2.3), (67.8, 2.2), (69.8, 2.2), (71.8, 2.1), (73.7, 2.2), (75.7, 2.0), (77.6, 2.1),
         (79.6, 2.2), (81.6, 2.0), (83.5, 2.1), (85.5, 2.0), (87.5, 2.0), (89.4, 2.1), (90.9, 2.2), (92.4, 1.8),
         (93.8, 1.5), (95.3, 1.6), (96.8, 1.8), (97.7, 2.0), (98.4, 1.6), (99.0, 1.8)]
NI_DL = [(2, 1.3), (13, 1.5), (32.5, 1.8), (52.2, 2.0), (71.8, 2.2), (81.6, 2.4), (86.5, 2.7), (91.4, 3.0),
         (95.3, 3.5), (96.8, 4.3), (97.7, 4.5), (98.2, 6), (99, 6.3), (100, 12)]

CR_TS = [(0.4, 0.2), (3.1, 0.2), (7.1, 0.2), (8.2, 1.7), (9.0, 1.6), (9.8, 0.5), (11.5, 0.5), (12.9, 0.8), (13.9, 0.3),
         (15.4, 0.8), (17.4, 1.5), (18.3, 2.3), (19.3, 1.3), (20.3, 0.8), (21.3, 0.2), (22.0, 0.9), (23.2, 0.5),
         (24.7, 0.6), (25.5, 2.0), (26.1, 1.6), (26.8, 9.3), (27.5, 1.8), (28.4, 1.0), (29.1, 0.5), (29.8, 4.6),
         (30.6, 3.0), (31.2, 3.7), (31.8, 1.5), (32.5, 1.2), (33.5, 0.8), (34.5, 0.5), (36.0, 0.8), (37.0, 0.3),
         (38.4, 0.5), (40.4, 0.3), (42.4, 0.3), (43.3, 2.5), (44.1, 0.3), (45.8, 0.3), (47.3, 0.5), (49.2, 0.3),
         (51.2, 0.3), (52.6, 0.3), (54.1, 1.5), (54.9, 0.8), (56.1, 1.6), (57.1, 0.8), (58.0, 0.3), (62.0, 0.5),
         (66.9, 0.2), (71.8, 0.3), (76.7, 0.2), (81.6, 0.3), (86.5, 0.2), (91.4, 0.3), (96.3, 0.2), (99.0, 0.2)]
CR_DL = [(0.4, 0.0), (32.5, 0.2), (41.4, 0.4), (52.2, 0.5), (62, 0.6), (71.8, 0.6), (81.6, 0.7), (85.5, 1.0),
         (88.4, 1.4), (91.4, 1.6), (94.3, 2.0), (96.3, 2.5), (98.2, 4.0), (99.2, 4.7), (100, 9.4)]

ZN_TS = [(0.3, 3), (2.8, 5), (5.1, 7), (7.3, 8), (8.2, 28), (9.2, 20), (9.8, 12), (11.9, 11), (14.1, 10), (15.8, 15),
         (17.5, 22), (18.4, 47), (19.5, 25), (20.1, 13), (21.1, 15), (21.8, 20), (23.2, 16), (24.3, 12), (25.2, 26),
         (26.0, 27), (26.9, 89), (27.7, 25), (28.8, 15), (29.7, 48), (30.5, 40), (31.1, 52), (32.0, 25), (33.3, 17),
         (35.0, 15), (36.7, 12), (37.9, 15), (39.0, 10), (41.2, 10), (42.4, 18), (43.3, 33), (44.1, 20), (45.2, 10),
         (48.0, 8), (50.3, 10), (52.5, 12), (54.5, 18), (55.9, 12), (59.3, 10), (62.7, 9), (65.0, 8), (67.2, 10),
         (70.6, 8), (74.0, 9), (78.5, 8), (83.1, 9), (87.6, 7), (92.1, 6), (95.5, 5), (97.7, 6), (98.9, 8), (99.4, 6)]
ZN_DL = [(0.3, 2), (10.7, 4), (27.7, 6), (44.6, 8), (55.9, 9), (67.2, 10), (72.9, 11), (78.5, 12), (84.2, 15),
         (89.8, 20), (92.1, 25), (94.4, 27), (96, 30), (97.2, 40), (98.3, 48), (99.2, 52), (100, 90)]

# mean values (MW) / median (50-P) shown as blue horizontal line
MEAN_LEFT = [65, 13.5, 7.9, 12.5, 6, 10.4, 53, 36.5, 42.5, 7.9, 0.075, 0.033]
MEAN_RIGHT = [65, 0.044, 2.6, 1.75, 3.4, 7.3, 1.0, 0.06, 3.1, 2.2, 0.7, 12]

LABELS_LEFT = ["Abfluss\nPegel\nHattingen\n(Tagesmittel)\nm³/s", "Wasser-\ntemperatur\n°C", "pH-Wert",
               "Chlorophyll-a\nµg/l", "Abfiltrierbare\nStoffe\nmg/l", "Sauerstoff\nmg/l", "Chlorid\nmg/l",
               "Sulfat\nmg/l", "Calcium\nmg/l", "Magnesium\nmg/l", "Gesamt-\nphosphor\nmg/l", "o-Phosphat\nmg/l"]
LABELS_RIGHT = ["Abfluss\nPegel\nHattingen\n(Tagesmittel)\nm³/s", "NH₄-N\nmg/l", "NO₃-N\nmg/l", "BSB₅\nmg/l",
                "TOC\nmg/l", "AOX\nµg/l", "Blei\ngesamt\nµg/l", "Cadmium\ngesamt\nµg/l", "Kupfer\ngesamt\nµg/l",
                "Nickel\ngesamt\nµg/l", "Chrom\ngesamt\nµg/l", "Zink\ngesamt\nµg/l"]

# y axis: (min, max, label step, grid step, format)
YAX_LEFT = [(0, 600, 150, 150, "d"), (0, 30, 5, 5, "d"), (7, 10, 1, 0.5, "d"), (0, 120, 20, 20, "d"),
            (0, 160, 40, 40, "d"), (0, 20, 4, 4, "d"), (0, 100, 20, 20, "d"), (0, 100, 20, 20, "d"),
            (0, 100, 20, 20, "d"), (0, 25, 5, 5, "d"), (0, 0.5, 0.1, 0.1, ".1~f"), (0, 0.08, 0.02, 0.02, ".2f")]
YAX_RIGHT = [(0, 600, 150, 150, "d"), (0, 0.4, 0.1, 0.1, ".1~f"), (0, 8, 2, 2, "d"), (0, 12, 2, 2, "d"),
             (0, 20, 5, 5, "d"), (0, 40, 10, 10, "d"), (0, 30, 10, 10, "d"), (0, 0.8, 0.2, 0.2, ".1~f"),
             (0, 30, 10, 10, "d"), (0, 15, 3, 3, "d"), (0, 15, 3, 3, "d"), (0, 200, 40, 40, "d")]

SERIES_LEFT = [(ABFLUSS_TS, ABFLUSS_DL), (WASSER_TS, WASSER_DL), (PH_TS, PH_DL), (CHLA_TS, CHLA_DL),
               (AFS_TS, AFS_DL), (O2_TS, O2_DL), (CL_TS, CL_DL), (SO4_TS, SO4_DL), (CA_TS, CA_DL),
               (MG_TS, MG_DL), (TP_TS, TP_DL), (OP_TS, OP_DL)]
SERIES_RIGHT = [(ABFLUSS_TS, ABFLUSS_DL), (NH4_TS, NH4_DL), (NO3_TS, NO3_DL), (BSB_TS, BSB_DL), (TOC_TS, TOC_DL),
                (AOX_TS, AOX_DL), (PB_TS, PB_DL), (CD_TS, CD_DL), (CU_TS, CU_DL), (NI_TS, NI_DL),
                (CR_TS, CR_DL), (ZN_TS, ZN_DL)]

# annotation placement (pixels relative to each panel's plot area)
BOX_Y_LEFT = [70, 93, 67, 93, 93, 53, 46, 67, 60, 67, 82, 70]
BOX_Y_RIGHT = [71, 88, 89, 78, 87, 84, 91, 89, 88, 82, 95, 93]
LAB_Y_LEFT = [1, 18, 7, 19, 20, 20, 22, 20, 20, 20, 20, 20]
LAB_Y_RIGHT = [1, 19, 21, 22, 21, 22, 18, 17, 19, 20, 21, 18]
LAB_X_LEFT = [-138, -134, -138, -138, -138, -138, -133, -138, -138, -138, -138, -134]
LAB_X_RIGHT = [-137, -137, -137, -137, -137, -137, -137, -137, -137, -135, -135, -137]

XS = alt.Scale(domain=[0, 100], nice=False, zero=False)


def frange(a, b, s):
    out, i = [], 0
    while True:
        v = round(a + i * s, 6)
        if v > b + 1e-9:
            break
        out.append(v)
        i += 1
    return out


def panel(idx, col):
    left = col == "L"
    label = (LABELS_LEFT if left else LABELS_RIGHT)[idx]
    ts, dl = (SERIES_LEFT if left else SERIES_RIGHT)[idx]
    mw = (MEAN_LEFT if left else MEAN_RIGHT)[idx]
    ymin, ymax, lstep, gstep, fmt = (YAX_LEFT if left else YAX_RIGHT)[idx]
    box_y = (BOX_Y_LEFT if left else BOX_Y_RIGHT)[idx]
    lab_y = (LAB_Y_LEFT if left else LAB_Y_RIGHT)[idx]
    lab_x = (LAB_X_LEFT if left else LAB_X_RIGHT)[idx]
    top = idx == 0
    bottom = idx == 11
    mw_text = "50-P" if (left and idx == 2) else "MW"
    h = H1 if top else H
    cell_h = H1_CELL if top else H

    ys = alt.Scale(domain=[ymin, ymax], nice=False, zero=False, range=[h, 0])
    if lstep != gstep:
        lexpr = "datum.value % 1 == 0 ? format(datum.value, 'd') : ''"
    else:
        lexpr = "replace(format(datum.value, '%s'), '.', ',')" % fmt
    yaxis = alt.Axis(values=frange(ymin, ymax, gstep), labelExpr=lexpr, grid=True, gridColor="#8a8a8a",
                     gridWidth=1, domainColor="#000", domainWidth=1, tickColor="#000", tickSize=5,
                     labelPadding=1, labelFontSize=15, labelColor=TXT, labelFont=FONT, title=None)
    if top:
        xaxis = alt.Axis(orient="top", values=list(range(0, 101, 10)),
                         labelExpr="datum.value % 20 == 0 ? datum.label : ''", tickSize=4, tickColor="#000",
                         labelFontSize=15, labelPadding=5, labelColor=TXT, labelFont=FONT, domainColor="#000",
                         domainWidth=1, grid=False, title=None)
    elif bottom:
        xaxis = alt.Axis(orient="bottom", values=[i * 100 / 12 for i in range(13)], labels=False, tickSize=6,
                         tickColor="#000", domainColor="#000", domainWidth=1.5, grid=False, title=None)
    else:
        xaxis = alt.Axis(orient="bottom", ticks=False, labels=False, domainColor="#000", domainWidth=1.5,
                         grid=False, title=None)

    X = alt.X("t:Q", scale=XS, axis=xaxis)
    Y = alt.Y("v:Q", scale=ys, axis=yaxis)

    ts_df = pd.DataFrame(ts, columns=["t", "v"])
    dl_df = pd.DataFrame(dl, columns=["t", "v"])
    one = pd.DataFrame({"k": [0]})
    layers = [
        alt.Chart(ts_df).mark_line(color="#1a1a1a", strokeWidth=1).encode(x=X, y=Y),
        alt.Chart(dl_df).mark_line(color="#111", strokeWidth=2.3, interpolate="monotone").encode(x=X, y=Y),
        alt.Chart(pd.DataFrame({"t": PCT_LINES})).mark_rule(color=BLUE, strokeWidth=2.6)
        .encode(x=X, y=alt.value(0), y2=alt.value(h)),
        alt.Chart(pd.DataFrame({"v": [mw]})).mark_rule(color=BLUE, strokeWidth=2.6).encode(y=Y),
    ]
    # MW / 50-P box at right
    layers.append(alt.Chart(one).mark_point(shape="M-1,-0.37H1V0.37H-1Z", size=49 * 49, filled=False,
                                             color="#666", strokeWidth=1, opacity=1)
                  .encode(x=alt.value(W + 32), y=alt.value(box_y)))
    layers.append(alt.Chart(pd.DataFrame({"s": [mw_text]})).mark_text(fontSize=15, color=TXT, font=FONT,
                                                                       align="center", baseline="middle", dy=1)
                  .encode(text="s:N", x=alt.value(W + 32), y=alt.value(box_y)))
    # parameter label
    layers.append(alt.Chart(pd.DataFrame({"s": [label]})).mark_text(fontSize=15, color=TXT, font=FONT,
                                                                    align="left", baseline="alphabetic",
                                                                    lineBreak="\n", lineHeight=18.3)
                  .encode(text="s:N", x=alt.value(lab_x), y=alt.value(lab_y + 5.5)))
    if top:
        pdf = pd.DataFrame({"t": PCT_LINES, "s": PCT_LABELS})
        layers.append(alt.Chart(pdf).mark_point(shape="M-1,-0.315H1V0.315H-1Z", size=54 * 54, filled=False,
                                                color="#666", strokeWidth=1, opacity=1)
                      .encode(x=X, y=alt.value(-22.5)))
        layers.append(alt.Chart(pdf).mark_text(fontSize=15, color=TXT, font=FONT, align="center",
                                               baseline="middle", dy=1)
                      .encode(x=X, y=alt.value(-22.5), text="s:N"))
        layers.append(alt.Chart(pd.DataFrame({"s": [TITLE]})).mark_text(fontSize=16.5, color=TXT, font=FONT,
                                                                         align="center", baseline="middle")
                      .encode(text="s:N", x=alt.value(175 if left else 170), y=alt.value(-56)))
        # bottom axis line and right border of the shorter top panel
        layers.append(alt.Chart(one).mark_rule(color="#000", strokeWidth=1.5)
                      .encode(x=alt.value(0), x2=alt.value(W), y=alt.value(h)))
        layers.append(alt.Chart(one).mark_rule(color="#555", strokeWidth=1)
                      .encode(x=alt.value(W), y=alt.value(0), y2=alt.value(h)))
        if left:
            fr = dict(color="#6a6a6a", strokeWidth=1.5)
            layers.append(alt.Chart(one).mark_rule(**fr).encode(x=alt.value(-182), x2=alt.value(1183),
                                                                y=alt.value(-84)))
            layers.append(alt.Chart(one).mark_rule(**fr).encode(x=alt.value(-182), y=alt.value(-84),
                                                                y2=alt.value(1544)))
            layers.append(alt.Chart(one).mark_rule(**fr).encode(x=alt.value(1183), y=alt.value(-84),
                                                                y2=alt.value(1544)))
    if bottom:
        mdf = pd.DataFrame({"t": [(i + 0.5) * 100 / 12 for i in range(12)], "s": MONTHS})
        layers.append(alt.Chart(mdf).mark_text(fontSize=14.5, color=TXT, font=FONT, align="center",
                                               baseline="middle", dx=-2 if left else -8)
                      .encode(x=X, y=alt.value(196), text="s:N"))
        yx = (20, 108, 65) if left else (13, 104, 59)
        ydf = pd.DataFrame({"s": YEARS})
        layers.append(alt.Chart(ydf.iloc[[0]]).mark_text(fontSize=14.5, color=TXT, font=FONT, align="center",
                                                         baseline="middle")
                      .encode(text="s:N", x=alt.value(yx[0]), y=alt.value(217)))
        layers.append(alt.Chart(ydf.iloc[[1]]).mark_text(fontSize=14.5, color=TXT, font=FONT, align="center",
                                                         baseline="middle")
                      .encode(text="s:N", x=alt.value(yx[1]), y=alt.value(217)))
        layers.append(alt.Chart(one).mark_rule(color="#222", strokeWidth=1.3)
                      .encode(x=alt.value(yx[2]), y=alt.value(207), y2=alt.value(226)))

    ch = alt.layer(*layers).properties(width=W, height=cell_h)
    if top:
        ch = ch.properties(view=alt.ViewBackground(stroke="transparent"))
    return ch


panels = []
for i in range(12):
    panels.append(panel(i, "L"))
    panels.append(panel(i, "R"))

chart = (alt.concat(*panels, columns=2, spacing={"row": 19, "column": 262}, bounds="flush")
         .properties(padding={"left": 3, "top": 3, "right": 0, "bottom": 0}, background="white")
         .configure_view(stroke="#555", strokeWidth=1)
         .configure(font=FONT))

chart.save("out.html", embed_options={"renderer": "svg", "actions": False})
